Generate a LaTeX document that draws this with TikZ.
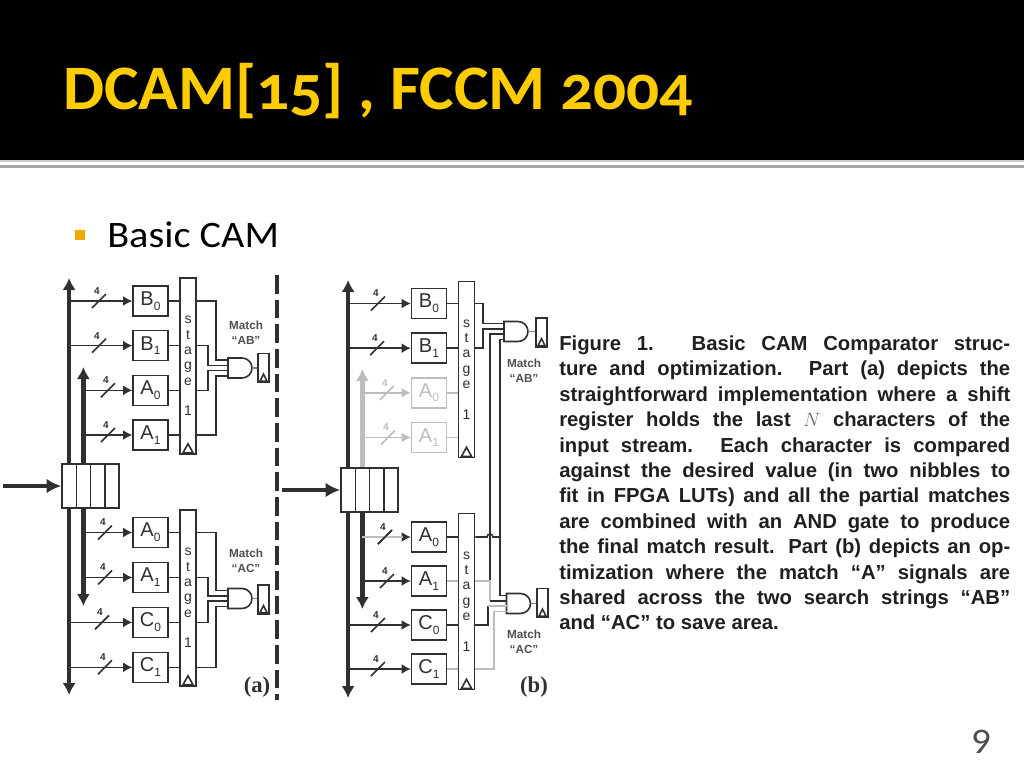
\documentclass[tikz,border=0pt]{standalone}
\usepackage{fontspec}
\setmainfont{Liberation Sans}
\newfontfamily\slidefont[Numbers=OldStyle,FakeStretch=1.03]{Carlito}
\newfontfamily\bodyfont[FakeStretch=1.08]{Carlito}
\newfontfamily\capfont{Liberation Serif}
\usetikzlibrary{arrows.meta}

\definecolor{cwire}{HTML}{303030}
\definecolor{cfade}{HTML}{BDBDBD}
\definecolor{ctitle}{HTML}{FFCC00}
\definecolor{cbullet}{HTML}{F0AB00}

\newcommand{\subl}[2]{#1\raisebox{-3.5pt}{\fontsize{9pt}{9pt}\selectfont #2}}
% bus, box, stage, x of the cut, colour in, colour out
\newcommand{\tapwire}[6]{
\draw[wire,#5,-{Latex[length=7pt,width=7.5pt]}] (#1 |- #2.west) -- (#2.west);
\draw[wire,#5] (#4,0 |- #2.west) ++(-7,7) -- ++(14,-14);
\path (#4,0 |- #2.west) ++(-2,-10) node (#2no) [tapno,text=#5] {4};
\draw[wire,#6] (#2.east) -- (#3.west |- #2.east);
}
% outline and the four inputs of a gate box
\newcommand{\andshape}[1]{
\draw[wire] (#1.north west) -- ++(14,0) arc[start angle=-90,end angle=90,radius=10] -- (#1.south west) -- cycle;
\coordinate (#1i1) at ([yshift=6pt]#1.west);
\coordinate (#1i2) at ([yshift=2pt]#1.west);
\coordinate (#1i3) at ([yshift=-2pt]#1.west);
\coordinate (#1i4) at ([yshift=-6pt]#1.west);
}

\begin{document}
\begin{tikzpicture}[x=0.75pt,y=-0.75pt]
\tikzstyle{wire}=[line width=1.2pt,cwire]
\tikzstyle{bus}=[line width=3.4pt,cwire,-{Latex[length=9pt,width=10pt]}]
\tikzstyle{sqb}=[rectangle,draw=cwire,line width=1.2pt,minimum width=26pt,minimum height=22.5pt,inner sep=0pt,text=cwire,font=\fontsize{15pt}{16pt}\selectfont]
\tikzstyle{sqg}=[sqb,draw=cfade,text=cfade]
\tikzstyle{sqs}=[rectangle,draw=cwire,line width=1.2pt,minimum width=12pt,minimum height=132pt,inner sep=0pt,align=center,text=cwire,font=\fontsize{10.5pt}{11.5pt}\selectfont]
\tikzstyle{sqr}=[rectangle,draw=cwire,line width=1.1pt,minimum width=10.7pt,minimum height=33pt,inner sep=0pt]
\tikzstyle{sqf}=[rectangle,draw=cwire,line width=1.2pt,minimum width=8.25pt,minimum height=21.5pt,inner sep=0pt]
\tikzstyle{gatebox}=[rectangle,minimum width=18pt,minimum height=15pt,inner sep=0pt,outer sep=0pt]
\tikzstyle{tapno}=[inner sep=0pt,font=\bfseries\fontsize{7.5pt}{8pt}\selectfont]
\tikzstyle{matchtxt}=[inner sep=0pt,align=center,text=cwire!85,font=\bfseries\fontsize{8.8pt}{11pt}\selectfont]
\tikzstyle{parttxt}=[inner sep=0pt,text=cwire,font=\capfont\bfseries\fontsize{17pt}{18pt}\selectfont]
\useasboundingbox (0,0) rectangle (1024,768);

\fill[black] (0,0) rectangle (1024,160);
\fill[gray!40] (0,160) rectangle (1024,161.5);
\fill[gray!70] (0,165) rectangle (1024,167.5);
\node (title) [anchor=base west,inner sep=0pt,text=ctitle,font=\slidefont\bfseries\fontsize{47.5pt}{50pt}\selectfont] at (63,109) {DCAM[15] , FCCM 2004};
\node (bullet) [rectangle,fill=cbullet,minimum size=7.5pt,inner sep=0pt] at (80,234.5) {};
\node (basic) [anchor=base west,inner sep=0pt,font=\bodyfont\fontsize{28pt}{30pt}\selectfont] at (107,247) {Basic CAM};
\node (pageno) [inner sep=0pt,text=black!70,font=\bodyfont\fontsize{27pt}{28pt}\selectfont,anchor=base] at (981,753) {9};

\draw[line width=2.3pt,cwire,dash pattern=on 14pt off 4.5pt] (277,275) -- (277,700);

% part (a)
\node (aR0) [sqr] at (69.1,486) {};
\node (aR1) [sqr,right of=aR0,node distance=10.7pt] {};
\node (aR2) [sqr,right of=aR1,node distance=10.7pt] {};
\node (aR3) [sqr,right of=aR2,node distance=10.7pt] {};
\coordinate (aIn) at (3,486);
\coordinate (aTop0) at (aR0 |- 0,278);
\coordinate (aTop1) at (aR1 |- 0,367);
\coordinate (aEnd0) at (aR0 |- 0,695);
\coordinate (aEnd1) at (aR1 |- 0,606);
\draw[bus,-{Latex[length=11pt,width=11pt]}] (aIn) -- (aR0.west);
\draw[bus] (aR0.north) -- (aTop0);
\draw[bus] (aR1.north) -- (aTop1);
\draw[bus] (aR0.south) -- (aEnd0);
\draw[bus] (aR1.south) -- (aEnd1);

\node (aB0) [sqb] at (150.5,301) {\subl{B}{0}};
\node (aB1) [sqb,below of=aB0,node distance=33.5pt] {\subl{B}{1}};
\node (aA0) [sqb,below of=aB1,node distance=33.5pt] {\subl{A}{0}};
\node (aA1) [sqb,below of=aA0,node distance=33.5pt] {\subl{A}{1}};
\node (aS1) [sqs] at (188,366) {s\\t\\a\\g\\e\\[11.5pt]1};
\node (aA2) [sqb] at (150.5,532.5) {\subl{A}{0}};
\node (aA3) [sqb,below of=aA2,node distance=33.7pt] {\subl{A}{1}};
\node (aC0) [sqb,below of=aA3,node distance=33.7pt] {\subl{C}{0}};
\node (aC1) [sqb,below of=aC0,node distance=33.7pt] {\subl{C}{1}};
\node (aS2) [sqs] at (188,598) {s\\t\\a\\g\\e\\[11.5pt]1};
\tapwire{aTop0}{aB0}{aS1}{99}{cwire}{cwire}
\tapwire{aTop0}{aB1}{aS1}{99}{cwire}{cwire}
\tapwire{aTop1}{aA0}{aS1}{108}{cwire}{cwire}
\tapwire{aTop1}{aA1}{aS1}{108}{cwire}{cwire}
\tapwire{aTop1}{aA2}{aS2}{105}{cwire}{cwire}
\tapwire{aTop1}{aA3}{aS2}{105}{cwire}{cwire}
\tapwire{aTop0}{aC0}{aS2}{102}{cwire}{cwire}
\tapwire{aTop0}{aC1}{aS2}{105}{cwire}{cwire}
\draw[wire] (aS1.south) ++(-5,-2) -- ++(5,-9) -- ++(5,9) -- cycle;
\draw[wire] (aS2.south) ++(-5,-2) -- ++(5,-9) -- ++(5,9) -- cycle;

\node (aG1) [gatebox] at (240,368) {};
\node (aF1) [sqf] at (263.5,368) {};
\node (aG2) [gatebox] at (240,598.5) {};
\node (aF2) [sqf] at (263.5,599.5) {};
\andshape{aG1}
\andshape{aG2}
\draw[wire] (aS1.east |- aB0) -| (216,0 |- aG1i1) -- (aG1i1);
\draw[wire] (aS1.east |- aB1) -| (208,0 |- aG1i2) -- (aG1i2);
\draw[wire] (aS1.east |- aA0) -| (208,0 |- aG1i3) -- (aG1i3);
\draw[wire] (aS1.east |- aA1) -| (216,0 |- aG1i4) -- (aG1i4);
\draw[wire] (aS2.east |- aA2) -| (216,0 |- aG2i1) -- (aG2i1);
\draw[wire] (aS2.east |- aA3) -| (208,0 |- aG2i2) -- (aG2i2);
\draw[wire] (aS2.east |- aC0) -| (208,0 |- aG2i3) -- (aG2i3);
\draw[wire] (aS2.east |- aC1) -| (216,0 |- aG2i4) -- (aG2i4);
\draw[wire,cwire!60] (aG1.east) -- (aF1.west);
\draw[wire,cwire!60] (aG2.east) -- (aF2.west |- aG2.east);
\draw[wire] (aF1.south) ++(-3.5,-2) -- ++(3.5,-7) -- ++(3.5,7) -- cycle;
\draw[wire] (aF2.south) ++(-3.5,-2) -- ++(3.5,-7) -- ++(3.5,7) -- cycle;
\node (aM1) [matchtxt] at (246,332.5) {Match\\``AB''};
\node (aM2) [matchtxt] at (246,560.5) {Match\\``AC''};
\node (aPart) [parttxt] at (257,687) {(a)};

% part (b)
\node (bR0) [sqr] at (348.1,490) {};
\node (bR1) [sqr,right of=bR0,node distance=10.7pt] {};
\node (bR2) [sqr,right of=bR1,node distance=10.7pt] {};
\node (bR3) [sqr,right of=bR2,node distance=10.7pt] {};
\coordinate (bIn) at (282,490);
\coordinate (bTop0) at (bR0 |- 0,280);
\coordinate (bTop1) at (bR1 |- 0,369);
\coordinate (bEnd0) at (bR0 |- 0,698);
\coordinate (bEnd1) at (bR1 |- 0,609);
\draw[bus,-{Latex[length=11pt,width=11pt]}] (bIn) -- (bR0.west);
\draw[bus] (bR0.north) -- (bTop0);
\draw[bus,cfade] (bR1.north) -- (bTop1);
\draw[bus] (bR0.south) -- (bEnd0);
\draw[bus] (bR1.south) -- (bEnd1);

\node (bB0) [sqb] at (429,303.5) {\subl{B}{0}};
\node (bB1) [sqb,below of=bB0,node distance=33.5pt] {\subl{B}{1}};
\node (bA0) [sqg,below of=bB1,node distance=33.5pt] {\subl{A}{0}};
\node (bA1) [sqg,below of=bA0,node distance=33.5pt] {\subl{A}{1}};
\node (bS1) [sqs] at (466.5,369.5) {s\\t\\a\\g\\e\\[11.5pt]1};
\node (bA2) [sqb] at (429,537) {\subl{A}{0}};
\node (bA3) [sqb,below of=bA2,node distance=33pt] {\subl{A}{1}};
\node (bC0) [sqb,below of=bA3,node distance=33pt] {\subl{C}{0}};
\node (bC1) [sqb,below of=bC0,node distance=33pt] {\subl{C}{1}};
\node (bS2) [sqs] at (466.5,601.5) {s\\t\\a\\g\\e\\[11.5pt]1};
\tapwire{bTop0}{bB0}{bS1}{378}{cwire}{cwire}
\tapwire{bTop0}{bB1}{bS1}{377}{cwire}{cwire}
\tapwire{bTop1}{bA0}{bS1}{387}{cfade}{cfade}
\tapwire{bTop1}{bA1}{bS1}{388}{cfade}{cfade}
\tapwire{bTop1}{bA2}{bS2}{385}{cwire}{cwire}
\tapwire{bTop1}{bA3}{bS2}{387}{cwire}{cfade}
\tapwire{bTop0}{bC0}{bS2}{378}{cwire}{cwire}
\tapwire{bTop0}{bC1}{bS2}{378}{cwire}{cfade}
\draw[wire,cfade] (bTop1 |- bA2.west) -- ([xshift=-6pt]bA2.west);
\draw[wire] (385,0 |- bA2.west) ++(-7,7) -- ++(14,-14);
\draw[wire] (bS1.south) ++(-5,-2) -- ++(5,-9) -- ++(5,9) -- cycle;
\draw[wire] (bS2.south) ++(-5,-2) -- ++(5,-9) -- ++(5,9) -- cycle;

\node (bG1) [gatebox] at (516,331.5) {};
\node (bF1) [sqf] at (541.5,332.5) {};
\node (bG2) [gatebox] at (518.5,603.5) {};
\node (bF2) [sqf] at (542.5,603) {};
\andshape{bG1}
\andshape{bG2}
\draw[wire] (bS1.east |- bB0) -| (483,0 |- bG1i1) -- (bG1i1);
\draw[wire] (bS1.east |- bB1) -| (483,0 |- bG1i2) -- (bG1i2);
\draw[wire] (bG1i3) -- (490,0 |- bG1i3) -- (490,0 |- bA3);
\draw[wire] (bG1i4) -- (500,0 |- bG1i4) -- (500,0 |- bG2i1) -- (bG2i1);
\draw[wire] (bS2.east |- bA2) -- (487,0 |- bA2) arc[start angle=-180,end angle=0,radius=3] -- (500,0 |- bA2);
\draw[wire,cfade] (bS2.east |- bA3) -- (490,0 |- bA3) -- (490,0 |- bG2i2);
\draw[wire] (490,0 |- bG2i2) -- (bG2i2);
\draw[wire] (bS2.east |- bC0) -| (488,0 |- bG2i3);
\draw[wire,cfade] (488,0 |- bG2i3) -- (bG2i3);
\draw[wire,cfade] (bS2.east |- bC1) -| (494,0 |- bG2i4) -- (bG2i4);
\draw[wire,cwire!60] (bG1.east) -- (bF1.west |- bG1.east);
\draw[wire,cwire!60] (bG2.east) -- (bF2.west |- bG2.east);
\draw[wire] (bF1.south) ++(-3.5,-2) -- ++(3.5,-7) -- ++(3.5,7) -- cycle;
\draw[wire] (bF2.south) ++(-3.5,-2) -- ++(3.5,-7) -- ++(3.5,7) -- cycle;
\node (bM1) [matchtxt] at (524,370.5) {Match\\``AB''};
\node (bM2) [matchtxt] at (524,642) {Match\\``AC''};
\node (bPart) [parttxt] at (534,687) {(b)};

\node (figtext) [anchor=north west,inner sep=0pt,text width=338.25pt,align=justify,text=black!88,font=\bfseries\fontsize{15.2pt}{19.05pt}\selectfont] at (559,335.5) {Figure 1. Basic CAM Comparator struc-\linebreak
ture and optimization.  Part (a) depicts the\linebreak
straightforward implementation where a shift\linebreak
register holds the last \textcolor{black!60}{$N$} characters of the\linebreak
input stream.  Each character is compared\linebreak
against the desired value (in two nibbles to\linebreak
fit in FPGA LUTs) and all the partial matches\linebreak
are combined with an AND gate to produce\linebreak
the final match result. Part (b) depicts an op-\linebreak
timization where the match ``A'' signals are\linebreak
shared across the two search strings ``AB''\linebreak
and ``AC'' to save area.};
\end{tikzpicture}
\end{document}
